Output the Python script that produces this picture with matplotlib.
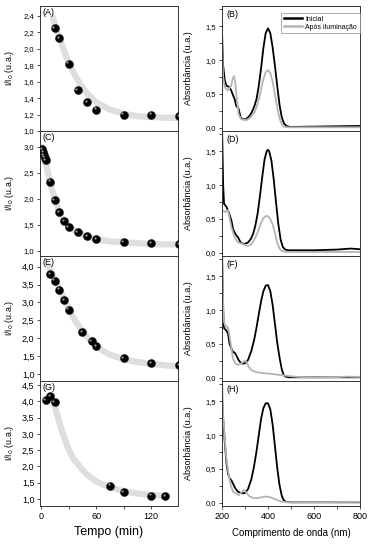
import numpy as np
import matplotlib.pyplot as plt
from matplotlib.ticker import MultipleLocator, FuncFormatter
from matplotlib.transforms import ScaledTranslation

plt.rcParams['font.family'] = ['Liberation Sans', 'DejaVu Sans']

# --- kinetics: I/I0 vs time (min) ---
t_a = [15, 20, 30, 40, 50, 60, 90, 120, 150]
y_a = [2.25, 2.13, 1.82, 1.50, 1.35, 1.26, 1.20, 1.20, 1.18]
fit_t_a = [13, 15, 18, 20, 23, 26, 30, 35, 40, 45, 50, 60, 75, 90, 105, 120, 135, 150]
fit_y_a = [2.38, 2.30, 2.20, 2.14, 2.04, 1.95, 1.84, 1.72, 1.62, 1.53, 1.46, 1.35, 1.26, 1.21, 1.18, 1.17, 1.16, 1.16]

t_c = [1, 2, 3, 4, 5, 10, 15, 20, 25, 30, 40, 50, 60, 90, 120, 150]
y_c = [2.95, 2.90, 2.84, 2.79, 2.74, 2.33, 1.98, 1.74, 1.57, 1.46, 1.36, 1.28, 1.23, 1.16, 1.15, 1.13]
fit_t_c = [1, 3, 5, 7, 10, 12, 15, 18, 20, 24, 28, 34, 40, 50, 60, 75, 90, 120, 150]
fit_y_c = [3.00, 2.85, 2.70, 2.55, 2.32, 2.18, 2.00, 1.84, 1.74, 1.61, 1.52, 1.42, 1.35, 1.27, 1.22, 1.18, 1.16, 1.13, 1.12]

t_e = [10, 15, 20, 25, 30, 45, 55, 60, 90, 120, 150]
y_e = [3.80, 3.61, 3.36, 3.06, 2.80, 2.16, 1.92, 1.78, 1.44, 1.30, 1.25]
fit_t_e = [9, 12, 15, 20, 25, 30, 37, 45, 52, 60, 67, 75, 90, 105, 120, 135, 150]
fit_y_e = [4.02, 3.80, 3.65, 3.39, 3.10, 2.84, 2.50, 2.20, 1.98, 1.78, 1.65, 1.54, 1.41, 1.33, 1.28, 1.24, 1.21]

t_g = [5, 10, 15, 75, 90, 120, 135]
y_g = [4.03, 4.17, 3.99, 1.41, 1.21, 1.10, 1.09]
fit_t_g = [14, 16, 19, 22, 25, 30, 35, 40, 45, 50, 55, 60, 68, 75, 90, 105, 120, 137]
fit_y_g = [4.00, 3.75, 3.45, 3.17, 2.92, 2.53, 2.25, 2.08, 1.90, 1.75, 1.64, 1.54, 1.43, 1.36, 1.23, 1.16, 1.12, 1.09]

# --- UV-vis spectra ---
wl_b_ini = [200, 204, 212, 219, 233, 241, 255, 262, 272, 281, 291, 305, 320, 330, 340, 350, 360, 370, 380, 390, 400,
            410, 420, 430, 440, 450, 460, 470, 480, 495, 600, 700, 800]
ab_b_ini = [1.43, 0.95, 0.70, 0.62, 0.60, 0.54, 0.42, 0.32, 0.28, 0.15, 0.125, 0.125, 0.175, 0.23, 0.31, 0.42, 0.62, 0.88, 1.18, 1.40, 1.47,
            1.40, 1.19, 0.92, 0.62, 0.34, 0.15, 0.06, 0.025, 0.01, 0.015, 0.02, 0.025]
wl_b_apos = [200, 205, 212, 225, 240, 246, 252, 257, 262, 272, 283, 305, 320, 340, 350, 360, 370, 380, 390, 400,
             410, 420, 430, 440, 450, 460, 470, 485, 800]
ab_b_apos = [1.22, 0.75, 0.60, 0.55, 0.62, 0.72, 0.76, 0.68, 0.50, 0.20, 0.125, 0.11, 0.14, 0.22, 0.30, 0.42, 0.57, 0.72, 0.82, 0.85,
             0.81, 0.68, 0.50, 0.30, 0.14, 0.05, 0.015, 0.005, 0.005]

wl_d_ini = [200, 205, 209, 219, 229, 241, 248, 258, 270, 281, 296, 313, 325, 335, 345, 355, 365, 375, 385, 395, 400,
            405, 415, 425, 435, 445, 455, 465, 475, 490, 600, 700, 760, 800]
ab_d_ini = [1.90, 1.00, 0.72, 0.68, 0.60, 0.475, 0.35, 0.275, 0.225, 0.15, 0.125, 0.15, 0.20, 0.275, 0.40, 0.58, 0.84, 1.12, 1.38, 1.51, 1.52,
            1.50, 1.36, 1.08, 0.74, 0.42, 0.19, 0.08, 0.045, 0.035, 0.035, 0.045, 0.06, 0.05]
wl_d_apos = [200, 205, 215, 226, 241, 255, 270, 284, 299, 313, 328, 342, 355, 370, 380, 390, 400, 410, 420, 430, 440, 450, 460, 480, 800]
ab_d_apos = [0.60, 0.62, 0.60, 0.63, 0.375, 0.225, 0.15, 0.135, 0.115, 0.10, 0.125, 0.20, 0.30, 0.44, 0.51, 0.54, 0.54, 0.50, 0.42, 0.29, 0.15, 0.06, 0.025, 0.01, 0.01]

wl_f_ini = [200, 204, 209, 219, 226, 233, 241, 248, 255, 262, 272, 284, 299, 313, 328, 340, 350, 360, 370, 380, 390, 400,
            410, 420, 430, 440, 450, 460, 468, 476, 490, 800]
ab_f_ini = [1.90, 1.07, 0.73, 0.70, 0.65, 0.50, 0.43, 0.38, 0.37, 0.33, 0.26, 0.21, 0.21, 0.26, 0.40, 0.56, 0.74, 0.94, 1.13, 1.28, 1.36, 1.37,
            1.28, 1.08, 0.80, 0.52, 0.30, 0.12, 0.04, 0.015, 0.005, 0.005]
wl_f_apos = [200, 204, 209, 216, 223, 229, 238, 248, 258, 270, 284, 296, 306, 316, 328, 349, 386, 429, 472, 530, 600, 700, 748, 800]
ab_f_apos = [1.90, 1.20, 0.82, 0.75, 0.76, 0.70, 0.50, 0.28, 0.21, 0.19, 0.21, 0.245, 0.235, 0.16, 0.11, 0.08, 0.065, 0.05, 0.03, 0.01, 0.005, 0.008, 0.015, 0.01]

wl_h_ini = [200, 204, 212, 219, 226, 233, 241, 248, 258, 270, 284, 299, 313, 328, 340, 350, 360, 370, 380, 390, 400,
            410, 420, 430, 440, 450, 460, 468, 478, 500, 800]
ab_h_ini = [1.58, 1.29, 0.90, 0.60, 0.43, 0.36, 0.33, 0.28, 0.21, 0.16, 0.14, 0.14, 0.20, 0.35, 0.55, 0.76, 1.00, 1.24, 1.40, 1.47, 1.47,
            1.38, 1.16, 0.84, 0.52, 0.26, 0.10, 0.04, 0.01, 0.005, 0.005]
wl_h_apos = [200, 204, 212, 219, 229, 238, 248, 258, 272, 284, 296, 306, 320, 342, 360, 380, 395, 410, 429, 458, 487, 800]
ab_h_apos = [1.90, 1.34, 0.95, 0.65, 0.41, 0.26, 0.16, 0.14, 0.11, 0.15, 0.19, 0.15, 0.09, 0.064, 0.07, 0.085, 0.09, 0.08, 0.054, 0.015, 0.005, 0.01]

kin = [('(A)', t_a, y_a, fit_t_a, fit_y_a, (1.0, 2.52), 0.2, 5.5),
       ('(C)', t_c, y_c, fit_t_c, fit_y_c, (0.9, 3.3), 0.5, 5.5),
       ('(E)', t_e, y_e, fit_t_e, fit_y_e, (0.8, 4.3), 0.5, 6.5),
       ('(G)', t_g, y_g, fit_t_g, fit_y_g, (0.78, 4.63), 0.5, 6.5)]
spec = [('(B)', wl_b_ini, ab_b_ini, wl_b_apos, ab_b_apos),
        ('(D)', wl_d_ini, ab_d_ini, wl_d_apos, ab_d_apos),
        ('(F)', wl_f_ini, ab_f_ini, wl_f_apos, ab_f_apos),
        ('(H)', wl_h_ini, ab_h_ini, wl_h_apos, ab_h_apos)]

W, H = 371, 546
fig = plt.figure(figsize=(W / 100, H / 100), dpi=100)
rows = [6, 131, 256, 381, 506]
comma = FuncFormatter(lambda v, p: ('%.1f' % v).replace('.', ','))
hl = ScaledTranslation(-0.9 / 72, 0.9 / 72, fig.dpi_scale_trans)


def style(ax, fs):
    for s in ax.spines.values():
        s.set_linewidth(0.7)
        s.set_color('#333333')
    ax.tick_params(which='both', direction='out', width=0.6, labelsize=fs, pad=1.5, color='#333333')
    ax.tick_params(which='major', length=2.5)
    ax.tick_params(which='minor', length=2.0)
    ax.yaxis.set_major_formatter(comma)


for i, (lab, t, y, ft, fy, yl, step, fs) in enumerate(kin):
    ax = fig.add_axes([40 / W, 1 - rows[i + 1] / H, 138 / W, (rows[i + 1] - rows[i]) / H])
    ax.plot(ft, fy, color='#dedede', lw=4.5, solid_capstyle='round', zorder=1)
    ax.plot(t, y, 'o', ms=5.8, color='black', mec='#111111', mew=0.3, zorder=3)
    ax.plot(t, y, 'o', ms=1.6, color='#9a9a9a', mew=0, zorder=4, transform=ax.transData + hl)
    ax.set_xlim(-1, 149)
    ax.set_ylim(*yl)
    ax.xaxis.set_major_locator(MultipleLocator(60))
    ax.xaxis.set_minor_locator(MultipleLocator(30))
    ax.yaxis.set_major_locator(MultipleLocator(step))
    style(ax, fs)
    ax.set_ylabel('I/I$_0$ (u.a.)', fontsize=6.3, labelpad=1)
    ax.yaxis.set_label_coords(-0.175, 0.5)
    ax.text(0.02, 0.985, lab, transform=ax.transAxes, va='top', ha='left', fontsize=6.5)
    if i < 3:
        ax.tick_params(axis='x', labelbottom=False)
    else:
        ax.tick_params(axis='x', labelsize=6.5)
        ax.set_xlabel('Tempo (min)', fontsize=9)
        ax.xaxis.set_label_coords(0.5, -0.16)

for i, (lab, w1, a1, w2, a2) in enumerate(spec):
    ax = fig.add_axes([222 / W, 1 - rows[i + 1] / H, 138 / W, (rows[i + 1] - rows[i]) / H])
    ax.plot(w1, a1, color='black', lw=1.3, label='Inicial')
    ax.plot(w2, a2, color='#b4b4b4', lw=1.3, label='Após iluminação')
    ax.set_xlim(200, 800)
    ax.set_ylim(-0.05, 1.8)
    ax.xaxis.set_major_locator(MultipleLocator(200))
    ax.xaxis.set_minor_locator(MultipleLocator(100))
    ax.yaxis.set_major_locator(MultipleLocator(0.5))
    ax.yaxis.set_minor_locator(MultipleLocator(0.25))
    style(ax, 5.5)
    ax.set_ylabel('Absorbância (u.a.)', fontsize=6.5, labelpad=1)
    ax.yaxis.set_label_coords(-0.21, 0.5)
    ax.text(0.03, 0.97, lab, transform=ax.transAxes, va='top', ha='left', fontsize=6.5)
    if i == 0:
        leg = ax.legend(loc='upper right', bbox_to_anchor=(1.0, 0.945), borderaxespad=0,
                        fontsize=5, frameon=True, fancybox=False, handlelength=2.6,
                        handletextpad=0.5, borderpad=0.4, labelspacing=0.15)
        leg.get_frame().set_edgecolor('#888888')
        leg.get_frame().set_linewidth(0.6)
        for ln in leg.get_lines():
            ln.set_linewidth(1.8)
    if i < 3:
        ax.tick_params(axis='x', labelbottom=False)
    else:
        ax.tick_params(axis='x', labelsize=6.5)
        ax.set_xlabel('Comprimento de onda (nm)', fontsize=7)
        ax.xaxis.set_label_coords(0.5, -0.18)

fig.savefig('out.png', dpi=100)
